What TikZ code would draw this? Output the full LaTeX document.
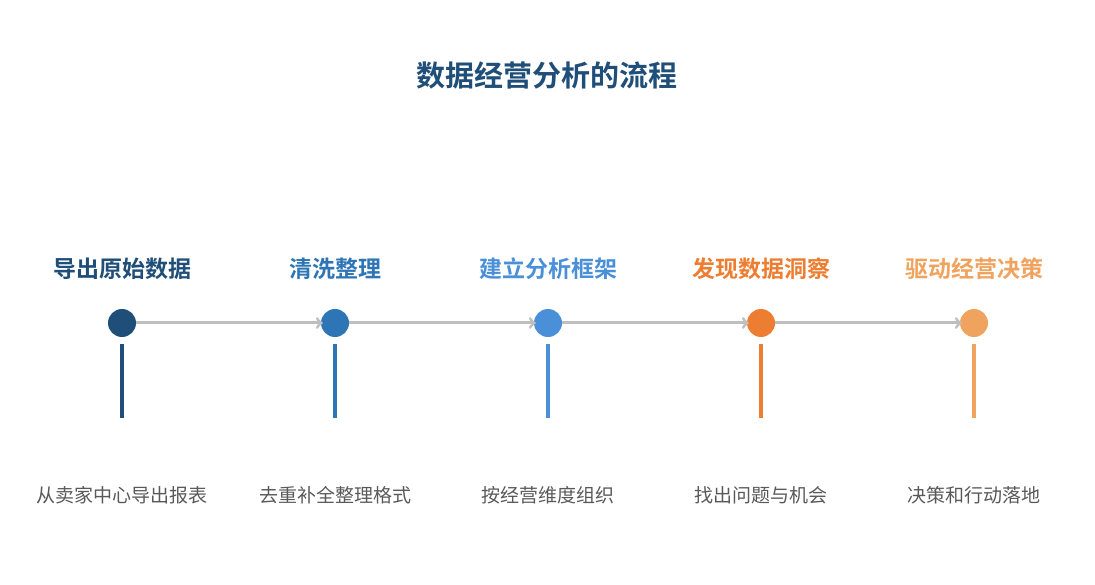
\documentclass[tikz,border=0pt]{standalone}
\usepackage{fontspec}
\setmainfont{Noto Sans CJK SC}[BoldFont={Noto Sans CJK SC Bold}]
\usepackage{xcolor}
\usepackage{tikz}
\definecolor{stepA}{HTML}{1F4E79}
\definecolor{stepB}{HTML}{2E75B6}
\definecolor{stepC}{HTML}{4A90D9}
\definecolor{stepD}{HTML}{ED7D31}
\definecolor{stepE}{HTML}{F0A35E}
\definecolor{flowgray}{HTML}{BFBFBF}
\definecolor{descgray}{HTML}{595959}
\tikzset{
  dot/.style={circle, fill=#1, minimum size=28pt, inner sep=0pt},
  steptitle/.style={text=#1, font=\fontsize{23}{26}\selectfont\bfseries},
  desc/.style={text=descgray, font=\fontsize{19}{23}\selectfont},
  flow/.style={draw=flowgray, line width=3pt, ->, shorten >=-2pt},
  stem/.style={draw=#1, line width=4pt, shorten <=7pt}
}
\begin{document}
\begin{tikzpicture}[x=1pt, y=-1pt]
                \useasboundingbox (0,0) rectangle (1095,585);
                \node [text=stepA, font=\fontsize{29}{33}\selectfont\bfseries] (title) at (547,75) {数据经营分析的流程};
                \node [dot=stepA] (c1) at (122,323) {};
                \node [dot=stepB] (c2) at (335,323) {};
                \node [dot=stepC] (c3) at (548,323) {};
                \node [dot=stepD] (c4) at (761,323) {};
                \node [dot=stepE] (c5) at (974,323) {};
                \node [steptitle=stepA] (t1) at (122,269) {导出原始数据};
                \node [steptitle=stepB] (t2) at (335,269) {清洗整理};
                \node [steptitle=stepC] (t3) at (548,269) {建立分析框架};
                \node [steptitle=stepD] (t4) at (761,269) {发现数据洞察};
                \node [steptitle=stepE] (t5) at (974,269) {驱动经营决策};
                \node [desc] (d1) at (122,495) {从卖家中心导出报表};
                \node [desc] (d2) at (335,495) {去重补全整理格式};
                \node [desc] (d3) at (548,495) {按经营维度组织};
                \node [desc] (d4) at (761,495) {找出问题与机会};
                \node [desc] (d5) at (974,495) {决策和行动落地};
                \coordinate (e1) at (122,418);
                \coordinate (e2) at (335,418);
                \coordinate (e3) at (548,418);
                \coordinate (e4) at (761,418);
                \coordinate (e5) at (974,418);
                \draw [flow] (c1.east) -- (c2.west);
                \draw [flow] (c2.east) -- (c3.west);
                \draw [flow] (c3.east) -- (c4.west);
                \draw [flow] (c4.east) -- (c5.west);
                \draw [stem=stepA] (c1.south) -- (e1);
                \draw [stem=stepB] (c2.south) -- (e2);
                \draw [stem=stepC] (c3.south) -- (e3);
                \draw [stem=stepD] (c4.south) -- (e4);
                \draw [stem=stepE] (c5.south) -- (e5);
            \end{tikzpicture}
\end{document}
